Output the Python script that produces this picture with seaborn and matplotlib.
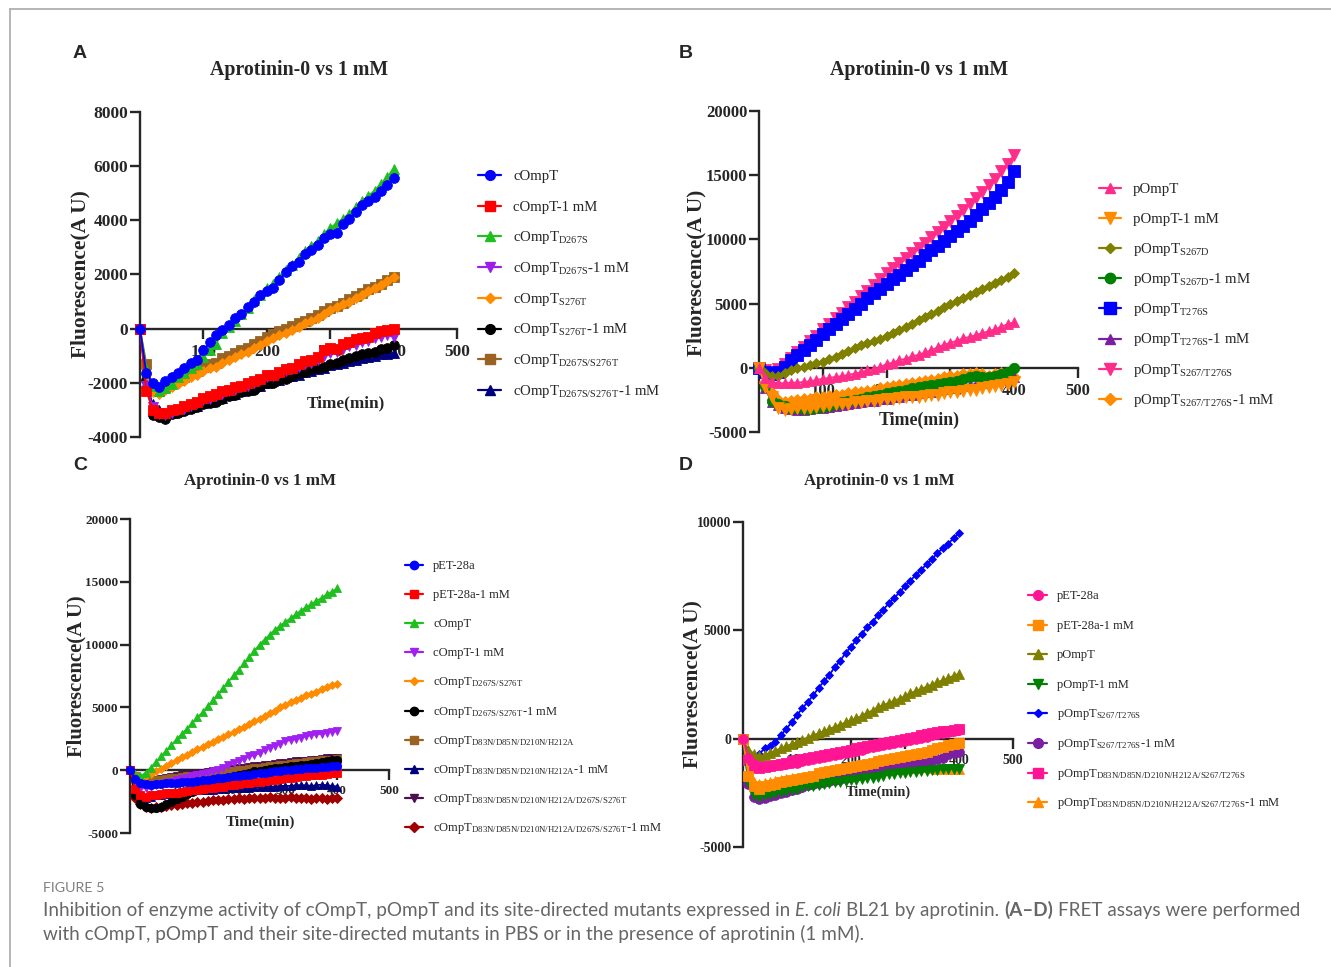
import matplotlib
matplotlib.use("Agg")
import matplotlib.pyplot as plt
from matplotlib.lines import Line2D
import seaborn as sns

sns.set_style("ticks")
plt.rcParams["font.family"] = ["Liberation Serif", "DejaVu Serif"]
plt.rcParams["mathtext.fontset"] = "stix"
plt.rcParams["axes.unicode_minus"] = False

# time points (min)
time_min = list(range(0, 401, 10))

# ---------------- Panel A ----------------
a_compt = [0, -1650, -2000, -2150, -1950, -1800, -1650, -1450, -1250, -1150, -800, -500, -250, -50, 150,
           400, 550, 800, 1000, 1250, 1400, 1500, 1800, 2100, 2300, 2450, 2750, 2900, 3100, 3350,
           3500, 3550, 3850, 4050, 4300, 4550, 4700, 4850, 5100, 5300, 5550]
a_compt_1mm = [0, -2300, -3000, -3100, -3100, -3000, -2950, -2850, -2800, -2700, -2550, -2500, -2400, -2300,
               -2250, -2150, -2100, -2000, -1950, -1850, -1700, -1700, -1600, -1500, -1450, -1300, -1200,
               -1150, -1050, -800, -700, -750, -550, -500, -400, -350, -300, -150, -100, -50, 0]
a_d267s = [0, -1500, -2100, -2300, -2200, -2050, -1800, -1650, -1450, -1300, -1050, -800, -550, -150, 50,
           300, 550, 750, 1050, 1250, 1500, 1650, 1900, 2150, 2350, 2600, 2850, 3050, 3250, 3500,
           3700, 3900, 4050, 4250, 4500, 4700, 4900, 5100, 5350, 5600, 5900]
a_d267s_1mm = [0, -2100, -2900, -3150, -3200, -3100, -3000, -2950, -2850, -2750, -2650, -2600, -2500, -2400,
               -2300, -2250, -2150, -2100, -2000, -1900, -1800, -1750, -1650, -1550, -1500, -1400, -1300,
               -1250, -1150, -1000, -900, -850, -750, -650, -600, -500, -450, -350, -300, -250, -300]
a_s276t = [0, -1700, -2350, -2400, -2250, -2150, -2050, -1950, -1800, -1700, -1550, -1450, -1400, -1250,
           -1150, -1050, -950, -850, -700, -600, -450, -350, -250, -150, -50, 50, 200, 300, 400, 550,
           700, 800, 900, 1000, 1150, 1250, 1400, 1500, 1600, 1750, 1900]
a_s276t_1mm = [0, -1900, -3200, -3250, -3350, -3150, -3100, -3050, -2950, -2900, -2800, -2750, -2700, -2600,
               -2500, -2450, -2350, -2300, -2250, -2100, -2000, -2000, -1900, -1850, -1750, -1650, -1600,
               -1500, -1450, -1400, -1300, -1250, -1150, -1100, -1000, -950, -900, -850, -750, -700, -600]
a_double = [0, -1300, -2200, -2300, -2150, -2000, -1900, -1800, -1650, -1550, -1400, -1300, -1250, -1100,
            -1000, -900, -800, -700, -550, -450, -300, -200, -100, 0, 100, 200, 300, 400, 500, 650,
            750, 850, 950, 1100, 1200, 1300, 1450, 1550, 1650, 1800, 1900]
a_double_1mm = [0, -2000, -2800, -3000, -3200, -3100, -3050, -2950, -2900, -2850, -2750, -2700, -2600, -2550,
                -2450, -2400, -2300, -2250, -2150, -2100, -2000, -1950, -1900, -1800, -1750, -1700, -1600,
                -1550, -1500, -1450, -1350, -1300, -1250, -1200, -1150, -1100, -1050, -1000, -950, -950, -900]

# ---------------- Panel B ----------------
b_pompt = [0, -800, -1100, -1200, -1200, -1150, -1150, -1100, -1050, -950, -850, -800, -700, -650, -550,
           -450, -350, -200, -100, 50, 300, 400, 600, 700, 900, 1000, 1200, 1350, 1600, 1800,
           1950, 2100, 2300, 2400, 2550, 2700, 2850, 3000, 3200, 3400, 3550]
b_pompt_1mm = [0, -1500, -2300, -3100, -3300, -3200, -3150, -3100, -3100, -3050, -2950, -2900, -2850, -2800,
               -2850, -2700, -2650, -2600, -2550, -2500, -2400, -2400, -2350, -2300, -2250, -2250, -2200,
               -2150, -2100, -2000, -1900, -1900, -1800, -1750, -1700, -1600, -1500, -1450, -1350, -1250, -1100]
b_s267d = [0, -400, -600, -600, -400, -200, 0, 100, 250, 350, 450, 650, 850, 1050, 1300, 1550, 1800, 1950,
           2050, 2250, 2450, 2700, 2950, 3200, 3450, 3700, 3950, 4200, 4450, 4750, 5000, 5200, 5450,
           5650, 5900, 6100, 6350, 6600, 6850, 7100, 7400]
b_s267d_1mm = [0, -1400, -2600, -2800, -3000, -3100, -3150, -3200, -3200, -3150, -3050, -2950, -2850, -2700,
               -2600, -2500, -2400, -2300, -2200, -2100, -2000, -1900, -1800, -1700, -1600, -1500, -1400,
               -1350, -1250, -1150, -1100, -1000, -850, -700, -650, -750, -700, -600, -500, -350, 0]
b_t276s = [0, -300, -500, -300, 100, 600, 1000, 1400, 1800, 2200, 2650, 3050, 3400, 3800, 4200, 4600,
           5000, 5400, 5800, 6150, 6500, 6900, 7250, 7650, 8000, 8350, 8750, 9150, 9500, 9900, 10250,
           10650, 11050, 11450, 11900, 12350, 12800, 13300, 13850, 14500, 15300]
b_t276s_1mm = [0, -1600, -2700, -2900, -3100, -3200, -3250, -3250, -3200, -3150, -3100, -3050, -3000, -2900,
               -2850, -2750, -2700, -2600, -2550, -2450, -2400, -2300, -2250, -2150, -2100, -2000, -1900,
               -1850, -1750, -1650, -1550, -1500, -1400, -1350, -1250, -1200, -1100, -1000, -950, -850, -700]
b_double = [0, -200, -400, -100, 300, 800, 1200, 1650, 2050, 2500, 3000, 3450, 3850, 4300, 4700, 5150,
            5600, 6000, 6450, 6900, 7350, 7750, 8150, 8550, 8950, 9350, 9750, 10150, 10550, 10950,
            11400, 11850, 12300, 12750, 13200, 13700, 14200, 14700, 15300, 15900, 16600]
b_double_1mm = [0, -1200, -2000, -2500, -2700, -2600, -2500, -2450, -2400, -2300, -2250, -2200, -2150, -2100,
                -2000, -1900, -1850, -1800, -1700, -1600, -1500, -1450, -1350, -1300, -1200, -1100, -1050,
                -950, -850, -750, -650, -600, -500, -450, -400, -500, -600, -500, -400, -600, -700]

# ---------------- Panel C ----------------
c_pet = [0, -700, -1000, -1100, -1150, -1100, -1100, -1050, -1000, -1000, -950, -950, -900, -850, -800,
         -750, -700, -650, -600, -550, -500, -450, -400, -350, -300, -250, -200, -150, -100, -50, 0,
         50, 100, 100, 150, 200, 200, 250, 250, 300, 300]
c_pet_1mm = [0, -1500, -2000, -2100, -2000, -1950, -1900, -1850, -1800, -1800, -1700, -1650, -1600, -1550,
             -1500, -1450, -1400, -1350, -1300, -1200, -1150, -1100, -1050, -1000, -950, -900, -850, -800,
             -750, -700, -650, -600, -550, -500, -450, -400, -400, -350, -300, -250, -200]
c_compt = [0, -300, -500, -200, 200, 650, 1100, 1550, 2000, 2450, 2900, 3300, 3750, 4200, 4600, 5100,
           5550, 6050, 6550, 7050, 7550, 8000, 8500, 9000, 9500, 10000, 10400, 10800, 11200, 11500,
           11800, 12100, 12400, 12700, 13000, 13200, 13500, 13700, 14000, 14200, 14500]
c_compt_1mm = [0, -1000, -1500, -1400, -1300, -1200, -1100, -1000, -900, -800, -700, -600, -500, -400, -300,
               -200, -100, 0, 200, 400, 550, 700, 900, 1100, 1200, 1350, 1600, 1800, 1950, 2100, 2300,
               2400, 2450, 2600, 2700, 2800, 2850, 2900, 3000, 3050, 3100]
c_double = [0, -400, -600, -500, -300, -100, 100, 300, 550, 800, 1050, 1250, 1450, 1650, 1850, 2050, 2250,
            2450, 2650, 2850, 3050, 3250, 3450, 3700, 3900, 4100, 4350, 4550, 4750, 5000, 5200, 5400,
            5600, 5750, 5950, 6100, 6250, 6450, 6600, 6750, 6900]
c_double_1mm = [0, -2000, -2700, -2900, -3000, -3000, -2900, -2700, -2500, -2300, -2100, -1900, -1700, -1500,
                -1350, -1200, -1050, -900, -750, -600, -500, -400, -300, -200, -100, -50, 0, 100, 150, 200,
                250, 300, 350, 400, 450, 500, 550, 650, 700, 800, 850]
c_quad = [0, -500, -800, -900, -850, -800, -750, -700, -650, -600, -550, -500, -450, -400, -350, -300,
          -250, -200, -150, -100, -50, 0, 50, 100, 150, 200, 250, 300, 350, 400, 450, 500, 550, 600,
          650, 700, 750, 800, 800, 850, 900]
c_quad_1mm = [0, -1500, -2100, -2200, -2100, -2000, -1950, -1900, -1850, -1800, -1750, -1700, -1650, -1600,
              -1600, -1550, -1550, -1500, -1500, -1450, -1450, -1400, -1400, -1400, -1350, -1350, -1300,
              -1300, -1300, -1250, -1250, -1250, -1200, -1200, -1200, -1250, -1200, -1150, -1200, -1250, -1300]
c_hexa = [0, -800, -1100, -1000, -900, -800, -700, -600, -550, -500, -400, -350, -300, -250, -200, -150,
          -100, -50, 0, 50, 100, 150, 200, 250, 300, 350, 400, 450, 500, 550, 600, 650, 700, 700, 750,
          800, 850, 900, 950, 1000, 1000]
c_hexa_1mm = [0, -2200, -2700, -2900, -3000, -2950, -2900, -2850, -2800, -2750, -2700, -2650, -2600, -2550,
              -2500, -2450, -2400, -2400, -2350, -2300, -2300, -2250, -2300, -2250, -2200, -2250, -2200,
              -2150, -2200, -2250, -2200, -2150, -2200, -2250, -2200, -2300, -2250, -2200, -2300, -2250, -2200]

# ---------------- Panel D ----------------
d_pet = [0, -900, -1150, -1250, -1250, -1250, -1200, -1200, -1150, -1100, -1100, -1050, -1000, -950, -900,
         -850, -800, -750, -700, -650, -600, -550, -500, -450, -400, -350, -300, -250, -200, -150, -100,
         -50, 0, 50, 100, 150, 200, 250, 300, 350, 400]
d_pet_1mm = [0, -1700, -2200, -2300, -2200, -2150, -2100, -2000, -1950, -1900, -1850, -1800, -1750, -1700,
             -1600, -1550, -1500, -1450, -1400, -1350, -1300, -1250, -1200, -1150, -1100, -1050, -1000, -950,
             -900, -850, -800, -750, -700, -650, -600, -500, -450, -400, -300, -250, -200]
d_pompt = [0, -500, -700, -800, -750, -650, -550, -450, -350, -250, -150, -50, 50, 150, 250, 350, 450, 550,
           650, 750, 850, 950, 1050, 1200, 1300, 1450, 1550, 1650, 1750, 1850, 1950, 2100, 2200, 2300,
           2400, 2500, 2600, 2700, 2800, 2900, 3000]
d_pompt_1mm = [0, -2000, -2600, -2700, -2600, -2550, -2500, -2450, -2400, -2350, -2300, -2250, -2200, -2200,
               -2150, -2100, -2050, -2000, -2000, -1950, -1900, -1900, -1850, -1800, -1800, -1750, -1700,
               -1650, -1650, -1600, -1600, -1550, -1550, -1500, -1500, -1450, -1450, -1400, -1400, -1400, -1400]
d_double = [0, -600, -800, -700, -450, -350, -150, 150, 450, 750, 1100, 1400, 1700, 2000, 2350, 2650, 2950,
            3300, 3600, 3950, 4250, 4550, 4850, 5150, 5400, 5700, 5950, 6250, 6500, 6750, 7050, 7300,
            7550, 7800, 8050, 8300, 8550, 8800, 9000, 9250, 9500]
d_double_1mm = [0, -2100, -2700, -2800, -2750, -2650, -2600, -2500, -2450, -2350, -2300, -2250, -2150, -2100,
                -2050, -2000, -1950, -1900, -1850, -1800, -1750, -1700, -1650, -1600, -1550, -1500, -1450,
                -1400, -1350, -1300, -1250, -1200, -1150, -1100, -1100, -1000, -950, -900, -700, -650, -600]
d_sext = [0, -1000, -1300, -1350, -1300, -1250, -1200, -1150, -1100, -1050, -1000, -950, -900, -850, -800,
          -750, -700, -650, -600, -550, -500, -450, -400, -350, -300, -250, -200, -150, -100, -50, 0, 50,
          100, 150, 200, 250, 300, 350, 350, 400, 450]
d_sext_1mm = [0, -1500, -2000, -2100, -2050, -2000, -1950, -1900, -1850, -1800, -1800, -1750, -1700, -1700,
              -1650, -1650, -1600, -1600, -1550, -1550, -1500, -1500, -1450, -1450, -1400, -1400, -1400,
              -1350, -1350, -1300, -1300, -1300, -1350, -1300, -1300, -1350, -1400, -1350, -1400, -1400, -1400]


def sub(base, s, tail=""):
    return base + r"$_{\mathregular{" + s + "}}$" + tail


Q4 = "D83N/D85N/D210N/H212A"

labels_a = ["cOmpT", "cOmpT-1 mM", sub("cOmpT", "D267S"), sub("cOmpT", "D267S", "-1 mM"),
            sub("cOmpT", "S276T"), sub("cOmpT", "S276T", "-1 mM"),
            sub("cOmpT", "D267S/S276T"), sub("cOmpT", "D267S/S276T", "-1 mM")]
labels_b = ["pOmpT", "pOmpT-1 mM", sub("pOmpT", "S267D"), sub("pOmpT", "S267D", "-1 mM"),
            sub("pOmpT", "T276S"), sub("pOmpT", "T276S", "-1 mM"),
            sub("pOmpT", "S267/T276S"), sub("pOmpT", "S267/T276S", "-1 mM")]
labels_c = ["pET-28a", "pET-28a-1 mM", "cOmpT", "cOmpT-1 mM",
            sub("cOmpT", "D267S/S276T"), sub("cOmpT", "D267S/S276T", "-1 mM"),
            sub("cOmpT", Q4), sub("cOmpT", Q4, "-1 mM"),
            sub("cOmpT", Q4 + "/D267S/S276T"), sub("cOmpT", Q4 + "/D267S/S276T", "-1 mM")]
labels_d = ["pET-28a", "pET-28a-1 mM", "pOmpT", "pOmpT-1 mM",
            sub("pOmpT", "S267/T276S"), sub("pOmpT", "S267/T276S", "-1 mM"),
            sub("pOmpT", Q4 + "/S267/T276S"), sub("pOmpT", Q4 + "/S267/T276S", "-1 mM")]

series_a = [a_compt, a_compt_1mm, a_d267s, a_d267s_1mm, a_s276t, a_s276t_1mm, a_double, a_double_1mm]
series_b = [b_pompt, b_pompt_1mm, b_s267d, b_s267d_1mm, b_t276s, b_t276s_1mm, b_double, b_double_1mm]
series_c = [c_pet, c_pet_1mm, c_compt, c_compt_1mm, c_double, c_double_1mm, c_quad, c_quad_1mm,
            c_hexa, c_hexa_1mm]
series_d = [d_pet, d_pet_1mm, d_pompt, d_pompt_1mm, d_double, d_double_1mm, d_sext, d_sext_1mm]

# styles
colors_a = ["#0000ff", "#ff0000", "#1fbf1f", "#9b1fe8", "#ff8c00", "#000000", "#9a6324", "#00007f"]
markers_a = ["o", "s", "^", "v", "D", "o", "s", "^"]
sizes_a = [7, 7, 7, 7, 5, 7, 7, 7]
colors_b = ["#ff2d8a", "#ff8c00", "#808000", "#008000", "#0000ff", "#7b1fa2", "#ff2d8a", "#ff8c00"]
markers_b = ["^", "v", "D", "o", "s", "^", "v", "D"]
sizes_b = [7, 8, 5, 7.5, 8, 7, 8, 6]
colors_c = ["#0000ff", "#ff0000", "#1fbf1f", "#a020f0", "#ff8c00", "#000000", "#9a6324", "#00007f",
            "#4d0f4d", "#a00000"]
markers_c = ["o", "s", "^", "v", "D", "o", "s", "^", "v", "D"]
sizes_c = [6, 6, 6, 6, 4.5, 6, 6, 6, 6, 5]
colors_d = ["#ff1493", "#ff8c00", "#808000", "#008000", "#0000ff", "#7b1fa2", "#ff1493", "#ff8c00"]
markers_d = ["o", "s", "^", "v", "D", "o", "s", "^"]
sizes_d = [7, 7, 6.5, 6.5, 4.5, 7, 7, 6.5]

W, H = 1331, 967
fig = plt.figure(figsize=(W / 100, H / 100), dpi=100, facecolor="white")
renderer = fig.canvas.get_renderer()


def fit(txt, target, vertical=False, boost=1.0):
    bb = txt.get_window_extent(renderer=renderer)
    cur = bb.height if vertical else bb.width
    txt.set_fontsize(txt.get_fontsize() * target / cur * boost)


def fx(x):
    return x / W


def fy(y):
    return 1 - y / H


def draw_panel(box, ylim, yticks, series, colors, markers, sizes, tick_fs):
    left, right, top, bottom = box
    ax = fig.add_axes([fx(left), fy(bottom), (right - left) / W, (bottom - top) / H])
    for i, vals in enumerate(series):
        sns.lineplot(x=time_min, y=vals, ax=ax, color=colors[i], marker=markers[i],
                     markersize=sizes[i], markeredgecolor=colors[i], markeredgewidth=0.6,
                     linewidth=1.3, zorder=30 - i, clip_on=False, legend=False)
    ax.set_xlim(0, 500)
    ax.set_ylim(*ylim)
    ax.set_xticks([100, 200, 300, 400, 500])
    ax.set_yticks(yticks)
    ax.spines["bottom"].set_position(("data", 0))
    for s in ["top", "right"]:
        ax.spines[s].set_visible(False)
    for s in ["left", "bottom"]:
        ax.spines[s].set_linewidth(1.7)
    ax.tick_params(axis="x", length=7, width=1.7, labelsize=tick_fs, pad=4)
    ax.tick_params(axis="y", length=7, width=1.7, labelsize=tick_fs, pad=1.5)
    for lab in ax.get_xticklabels() + ax.get_yticklabels():
        lab.set_fontweight("bold")
    ax.set_axisbelow(True)
    ax.set_facecolor("none")
    return ax


def draw_texts(title_xy, title_w, ylab_xy, ylab_len, xlab_xy, xlab_w):
    t = fig.text(fx(title_xy[0]), fy(title_xy[1]), "Aprotinin-0 vs 1 mM", ha="center", va="center",
                 fontweight="bold", fontsize=14)
    fit(t, title_w, boost=1.06)
    t = fig.text(fx(ylab_xy[0]), fy(ylab_xy[1]), "Fluorescence(A U)", ha="center", va="center",
                 rotation=90, fontweight="bold", fontsize=14)
    fit(t, ylab_len, vertical=True)
    t = fig.text(fx(xlab_xy[0]), fy(xlab_xy[1]), "Time(min)", ha="center", va="center",
                 fontweight="bold", fontsize=12, zorder=50)
    fit(t, xlab_w, boost=1.04)


def draw_legend(xl0, xl1, xt, y0, dy, labels, colors, markers, sizes, fs, base):
    for i, lab in enumerate(labels):
        y = y0 + i * dy
        fig.add_artist(Line2D([fx(xl0), fx(xl1)], [fy(y), fy(y)], color=colors[i], lw=1.6))
        fig.add_artist(Line2D([fx((xl0 + xl1) / 2)], [fy(y)], marker=markers[i], ms=sizes[i],
                              color=colors[i], mec=colors[i], ls="none"))
        fig.text(fx(xt), fy(y + base), lab, fontsize=fs, va="baseline", ha="left")


# Panel A
draw_panel((140, 457, 112, 437), (-4000, 8000), [-4000, -2000, 0, 2000, 4000, 6000, 8000],
           series_a, colors_a, markers_a, sizes_a, 12.5)
draw_texts((299, 70), 168, (80, 274), 168, (346, 403), 75)
draw_legend(478, 501, 513, 175, 30.7, labels_a, colors_a, markers_a, sizes_a, 10.6, 5)

# Panel B
draw_panel((759, 1078, 111, 432), (-5000, 20000), [-5000, 0, 5000, 10000, 15000, 20000],
           series_b, colors_b, markers_b, sizes_b, 12)
draw_texts((919, 70), 168, (696, 273), 167, (919, 420), 78)
draw_legend(1099, 1121, 1133, 188, 30.1, labels_b, colors_b, markers_b, sizes_b, 10.7, 5)

# Panel C
draw_panel((130, 389, 519, 833), (-5000, 20000), [-5000, 0, 5000, 10000, 15000, 20000],
           series_c, colors_c, markers_c, sizes_c, 9.5)
draw_texts((260, 481), 144, (76, 676), 162, (260, 822), 67)
draw_legend(405, 423, 433, 565, 29.1, labels_c, colors_c, markers_c, sizes_c, 9.0, 4)

# Panel D
draw_panel((743, 1013, 522, 847), (-5000, 10000), [-5000, 0, 5000, 10000],
           series_d, colors_d, markers_d, sizes_d, 10)
draw_texts((879, 481), 142, (692, 684), 168, (878, 792), 63)
draw_legend(1028, 1047, 1057, 595, 29.6, labels_d, colors_d, markers_d, sizes_d, 9.0, 4)

# panel letters
for letter, (x, y) in zip("ABCD", [(80, 53), (686, 53), (80, 465), (686, 465)]):
    fig.text(fx(x), fy(y), letter, ha="center", va="center", fontsize=14, fontweight="bold",
             family="Liberation Sans")

# frame lines (top and left)
fig.add_artist(Line2D([fx(10), 1], [fy(9), fy(9)], color="#a9a9a9", lw=1.2))
fig.add_artist(Line2D([fx(10), fx(10)], [fy(9), 0], color="#a9a9a9", lw=1.2))

# caption
cap_font = "Lato"
cap_color = "#666666"
t = fig.text(fx(43), fy(892), "FIGURE 5", fontsize=9.5, color="#808080", family=cap_font, va="baseline")
fit(t, 62)


def run_line(x0, yb, segs, size):
    gap_t = fig.text(0, 0, "x x", fontsize=size, family=cap_font)
    nogap = fig.text(0, 0, "xx", fontsize=size, family=cap_font)
    space = (gap_t.get_window_extent(renderer=renderer).width
             - nogap.get_window_extent(renderer=renderer).width)
    gap_t.remove()
    nogap.remove()
    x = x0
    made = []
    for s, kw in segs:
        tt = fig.text(fx(x), fy(yb), s, fontsize=size, family=cap_font, color=cap_color,
                      va="baseline", ha="left", **kw)
        made.append(tt)
        x += tt.get_window_extent(renderer=renderer).width + space
    return made, x - space - x0


line1 = [("Inhibition of enzyme activity of cOmpT, pOmpT and its site-directed mutants expressed in", {}),
         ("E. coli", {"style": "italic"}),
         ("BL21 by aprotinin.", {}),
         ("(A\u2013D)", {"fontweight": "bold"}),
         ("FRET assays were performed", {})]
line2 = [("with cOmpT, pOmpT and their site-directed mutants in PBS or in the presence of aprotinin (1 mM).", {})]

made, width = run_line(43, 916, line1, 12)
for m in made:
    m.remove()
cap_size = 12 * 1250 / width
run_line(43, 916, line1, cap_size)
run_line(43, 940, line2, cap_size)

fig.savefig("out.png", dpi=100, facecolor="white")
